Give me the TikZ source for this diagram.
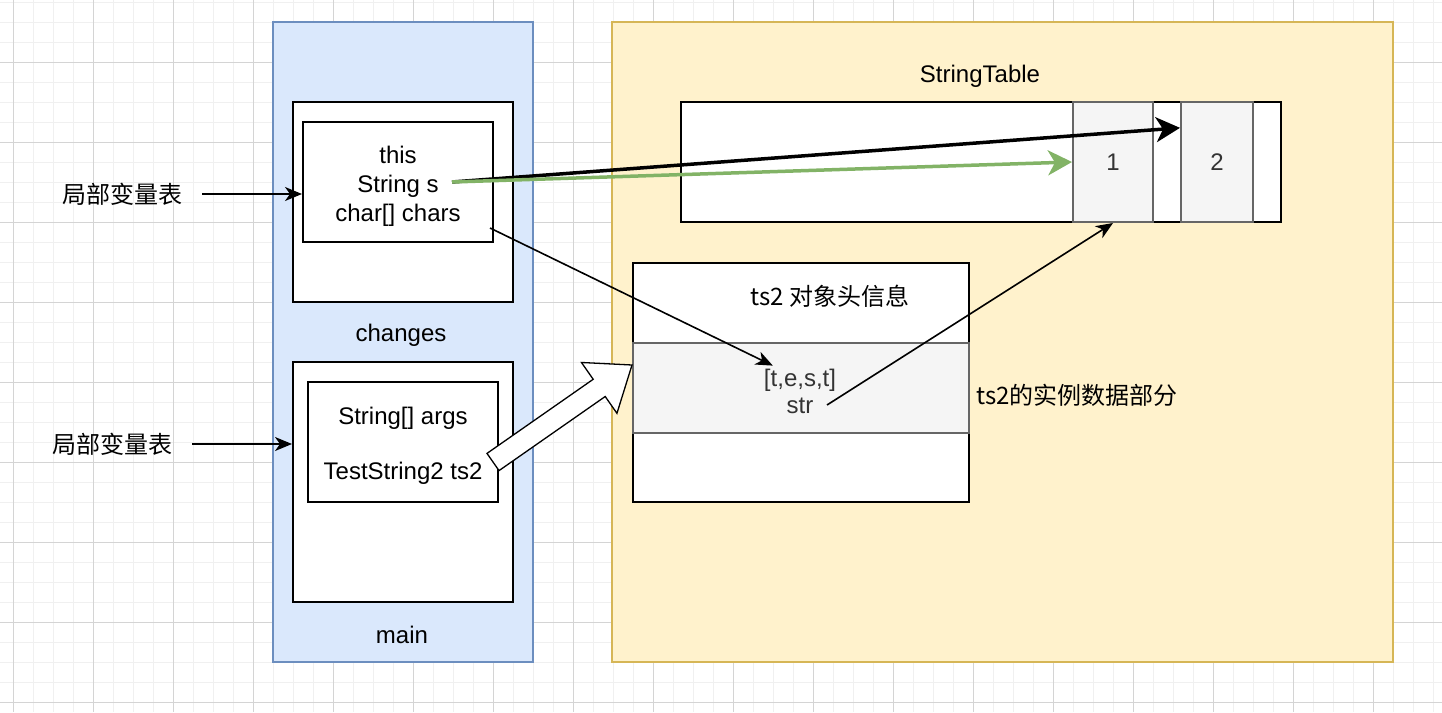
\documentclass[tikz,border=0pt]{standalone}
\usepackage{fontspec}
\setmainfont{Liberation Sans}
\newfontfamily\cjk{Noto Sans CJK SC}
\usetikzlibrary{positioning,calc,arrows.meta}
\definecolor{frameblue}{HTML}{DAE8FC}
\definecolor{lineblue}{HTML}{6C8EBF}
\definecolor{frameyellow}{HTML}{FFF2CC}
\definecolor{lineyellow}{HTML}{D6B656}
\definecolor{cellgray}{HTML}{F5F5F5}
\definecolor{linegray}{HTML}{666666}
\definecolor{textgray}{HTML}{333333}
\definecolor{ptrgreen}{HTML}{82B366}
\tikzset{every node/.style={font=\fontsize{24}{28.8}\selectfont, inner sep=0pt}}
\tikzset{gridminor/.style={draw=black!6, line width=1pt}}
\tikzset{gridmajor/.style={draw=black!17, line width=1pt}}
\tikzset{stackframe/.style={draw=lineblue, fill=frameblue, line width=1.5pt}}
\tikzset{heapframe/.style={draw=lineyellow, fill=frameyellow, line width=1.5pt}}
\tikzset{membox/.style={draw, fill=white, line width=2pt}}
\tikzset{cellbox/.style={draw=linegray, fill=cellgray, line width=2pt, text=textgray}}
\tikzset{vartext/.style={align=center}}
\tikzset{arr/.style={draw, line width=1.6pt, -{Stealth[length=17pt, width=14pt, inset=5pt]}}}
\tikzset{bigarr/.style={draw, line width=3.5pt, -{Stealth[length=24pt, width=25pt, inset=7pt]}}}
\tikzset{flexarr/.style={draw, fill=white, line width=1.3pt, line join=miter}}

\begin{document}
\begin{tikzpicture}[x=1pt, y=-1pt]
			\useasboundingbox (0,0) rectangle (1442,712);
			\fill[white] (0,0) rectangle (1442,712);
			% background grid
			\foreach \x in {13,33,...,1433} \draw[gridminor] (\x,0) -- (\x,712);
			\foreach \y in {2,22,...,702} \draw[gridminor] (0,\y) -- (1442,\y);
			\foreach \x in {13,93,...,1373} \draw[gridmajor] (\x,0) -- (\x,712);
			\foreach \y in {62,142,...,702} \draw[gridmajor] (0,\y) -- (1442,\y);
			%
			\node[stackframe, minimum width=260, minimum height=640] (stack) at (403,342) {};
			\node[heapframe, minimum width=781, minimum height=640] (heap) at (1002.5,342) {};
			%
			\node[membox, minimum width=220, minimum height=200] (chgframe) at (403,202) {};
			\node[membox, minimum width=190, minimum height=120] (chgvars) at (398,182) {};
			\node[vartext] (chgtext) at (398,186) {this\\String s\\char[] chars};
			\node (chglabel) at (401,335) {changes};
			%
			\node[membox, minimum width=220, minimum height=240] (mainframe) at (403,482) {};
			\node[membox, minimum width=190, minimum height=120] (mainvars) at (403,442) {};
			\node[vartext] (maintext) at (403,446) {String[] args\\[26pt]TestString2 ts2};
			\node (mainlabel) at (402,635) {main};
			%
			\node (lvt1) at (122,194) {\cjk 局部变量表};
			\node (lvt2) at (112,444) {\cjk 局部变量表};
			%
			\node (tablelabel) at (980,76) {StringTable};
			\node[membox, minimum width=600, minimum height=120] (table) at (981,162) {};
			\node[cellbox, minimum width=80, minimum height=120] (cell1) at (1113,162) {1};
			\node[cellbox, minimum width=72, minimum height=120] (cell2) at (1217,162) {2};
			%
			\node[membox, minimum width=336, minimum height=239] (ts2obj) at (801,382.5) {};
			\node[cellbox, minimum width=336, minimum height=90] (ts2data) at (801,388) {};
			\node (ts2head) at (830,296) {\cjk ts2 对象头信息};
			\node[text=textgray] (arrval) at (800,380) {[t,e,s,t]};
			\node[text=textgray] (strfield) at (800,406) {str};
			\node (datalabel) at (1077,395) {\cjk ts2的实例数据部分};
			%
			\coordinate (sptr) at (452,182);
			\coordinate (charsptr) at (490,228);
			\coordinate (strptr) at (827,405);
			\coordinate (fbase) at (493,462);
			\coordinate (ftip) at (ts2data.west |- 0,365);
			\coordinate (fhead) at ($(ftip)!40pt!(fbase)$);
			%
			\draw[arr, shorten <=20pt] (lvt1.east) -- (lvt1.east -| chgvars.west);
			\draw[arr, shorten <=20pt] (lvt2.east) -- (lvt2.east -| mainframe.west);
			%
			\draw[arr] (charsptr) -- ($(arrval.north west)+(9,-3)$);
			\draw[arr] (strptr) -- (cell1.south);
			%
			\draw[flexarr] ($(fbase)!10.5pt!90:(ftip)$) -- ($(fhead)!10.5pt!90:(ftip)$)
				-- ($(fhead)!31pt!90:(ftip)$) -- (ftip) -- ($(fhead)!31pt!-90:(ftip)$)
				-- ($(fhead)!10.5pt!-90:(ftip)$) -- ($(fbase)!10.5pt!-90:(ftip)$) -- cycle;
			%
			\draw[bigarr] (sptr) -- ($(cell2.north west)!0.22!(cell2.south west)$);
			\draw[bigarr, ptrgreen] (sptr) -- (cell1.west);
		\end{tikzpicture}
\end{document}
